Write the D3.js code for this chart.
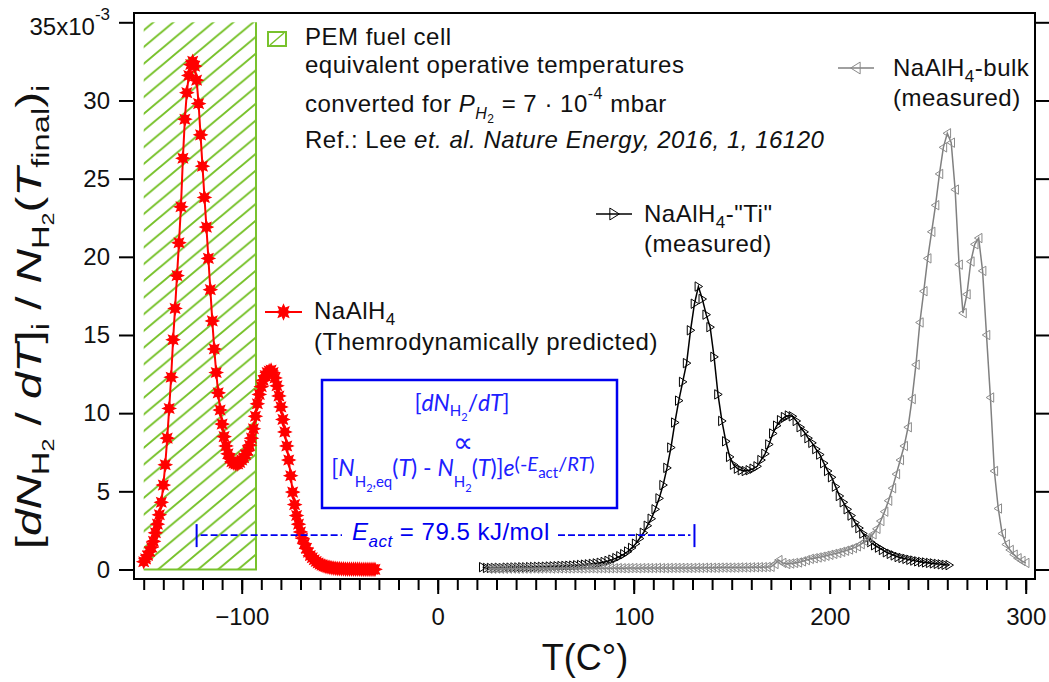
<!DOCTYPE html>
<html>
<head>
<meta charset="utf-8">
<script src="https://cdn.jsdelivr.net/npm/d3@7"></script>
<style>
  body { margin: 0; background: #fff; }
  text { font-family: "Liberation Sans", Arial, sans-serif; white-space: pre; }
</style>
</head>
<body>
<svg id="chart" width="1049" height="682"></svg>
<script>
// temperatures (C) and rates (x10^-3)

// NaAlH4, thermodynamically predicted
const redT = [
  -150, -149, -148, -147, -146, -145, -144, -143, -142, -141,
  -140, -139, -138, -137, -136, -135, -134, -133, -132, -131,
  -130, -129, -128, -127, -126, -125, -124, -123, -122, -121,
  -120, -119, -118, -117, -116, -115, -114, -113, -112, -111,
  -110, -109, -108, -107, -106, -105, -104, -103, -102, -101,
  -100, -99, -98, -97, -96, -95, -94, -93, -92, -91,
  -90, -89, -88, -87, -86, -85, -84, -83, -82, -81,
  -80, -79, -78, -77, -76, -75, -74, -73, -72, -71,
  -70, -69, -68, -67, -66, -65, -64, -63, -62, -61,
  -60, -59, -58, -57, -56, -55, -54, -53, -52, -51,
  -50, -49, -48, -47, -46, -45, -44, -43, -42, -41,
  -40, -39, -38, -37, -36, -35, -34, -33, -32
];
const redY = [
  0.5, 0.68, 0.9, 1.15, 1.42, 1.8, 2.35, 2.9, 3.5, 4.3,
  5.4, 6.7, 8.4, 10.3, 12.3, 14.7, 16.7, 18.8, 20.9, 23.2,
  26.3, 28.8, 30.5, 31.6, 32.3, 32.5, 32.2, 31.3, 29.8, 27.8,
  25.8, 23.8, 21.9, 19.9, 17.9, 15.9, 14.1, 12.6, 11.3, 10.2,
  9.3, 8.5, 7.9, 7.4, 7.1, 6.9, 6.8, 6.75, 6.75, 6.85,
  7.0, 7.15, 7.35, 7.6, 7.95, 8.4, 9.0, 9.8, 10.6, 11.2,
  11.7, 12.1, 12.4, 12.6, 12.7, 12.75, 12.6, 12.25, 11.75, 11.1,
  10.4, 9.6, 8.8, 7.9, 7.0, 6.0, 4.95, 4.15, 3.45, 2.9,
  2.4, 2.0, 1.65, 1.35, 1.1, 0.9, 0.75, 0.62, 0.51, 0.42,
  0.34, 0.28, 0.23, 0.19, 0.16, 0.13, 0.11, 0.09, 0.07, 0.06,
  0.05, 0.04, 0.04, 0.03, 0.03, 0.03, 0.02, 0.02, 0.02, 0.02,
  0.02, 0.01, 0.01, 0.01, 0.01, 0.01, 0.01, 0.01, 0.01
];

// NaAlH4-"Ti" (measured)
const tiT = [
  23, 25, 27, 29, 31, 33, 35, 37, 39, 41,
  43, 45, 47, 49, 51, 53, 55, 57, 59, 61,
  63, 65, 67, 69, 71, 73, 75, 77, 79, 81,
  83, 85, 87, 89, 91, 93, 95, 97, 99, 101,
  103, 105, 107, 109, 111, 113, 115, 117, 119, 121,
  123, 125, 127, 129, 131, 133, 135, 137, 139, 141,
  143, 145, 147, 149, 151, 153, 155, 157, 159, 161,
  163, 165, 167, 169, 171, 173, 175, 177, 179, 181,
  183, 185, 187, 189, 191, 193, 195, 197, 199, 201,
  203, 205, 207, 209, 211, 213, 215, 217, 219, 221,
  223, 225, 227, 229, 231, 233, 235, 237, 239, 241,
  243, 245, 247, 249, 251, 253, 255, 257, 259, 261
];
const tiY = [
  0.15, 0.1, 0.1, 0.1, 0.11, 0.1, 0.12, 0.12, 0.13, 0.13,
  0.14, 0.14, 0.15, 0.16, 0.17, 0.17, 0.18, 0.19, 0.2, 0.21,
  0.22, 0.23, 0.24, 0.25, 0.27, 0.29, 0.31, 0.33, 0.36, 0.39,
  0.43, 0.48, 0.55, 0.63, 0.73, 0.85, 0.98, 1.15, 1.38, 1.65,
  1.98, 2.35, 2.8, 3.25, 3.85, 4.55, 5.4, 6.5, 7.8, 9.4,
  10.8, 12.0, 13.2, 15.3, 17.0, 18.1, 17.3, 16.3, 15.5, 13.6,
  11.2, 9.5, 8.2, 7.2, 6.7, 6.45, 6.35, 6.3, 6.35, 6.45,
  6.6, 7.0, 7.4, 8.0, 8.7, 9.2, 9.55, 9.75, 9.85, 9.8,
  9.5, 9.1, 8.8, 8.4, 8.1, 7.7, 7.35, 6.8, 6.3, 5.9,
  5.3, 4.7, 4.3, 3.85, 3.45, 3.0, 2.65, 2.3, 2.0, 1.75,
  1.55, 1.4, 1.25, 1.1, 1.0, 0.9, 0.8, 0.74, 0.68, 0.62,
  0.57, 0.52, 0.48, 0.45, 0.42, 0.39, 0.36, 0.33, 0.3, 0.28
];

// NaAlH4-bulk (measured)
const bulkT = [
  26, 28, 30, 32, 34, 36, 38, 40, 42, 44,
  46, 48, 50, 52, 54, 56, 58, 60, 62, 64,
  66, 68, 70, 72, 74, 76, 78, 80, 82, 84,
  86, 88, 90, 92, 94, 96, 98, 100, 102, 104,
  106, 108, 110, 112, 114, 116, 118, 120, 122, 124,
  126, 128, 130, 132, 134, 136, 138, 140, 142, 144,
  146, 148, 150, 152, 154, 156, 158, 160, 162, 164,
  166, 168, 170, 172, 174, 176, 178, 180, 182, 184,
  186, 188, 190, 192, 194, 196, 198, 200, 202, 204,
  206, 208, 210, 212, 214, 216, 218, 220, 222, 224,
  226, 228, 230, 232, 234, 236, 238, 240, 242, 244,
  246, 248, 250, 252, 254, 256, 258, 260, 262, 264,
  266, 268, 270, 272, 274, 276, 278, 280, 282, 284,
  286, 288, 290, 292, 294, 296, 298, 300
];
const bulkY = [
  0.05, 0.05, 0.06, 0.05, 0.05, 0.06, 0.06, 0.05, 0.06, 0.06,
  0.06, 0.07, 0.06, 0.06, 0.07, 0.07, 0.06, 0.07, 0.07, 0.07,
  0.07, 0.07, 0.08, 0.07, 0.07, 0.08, 0.08, 0.07, 0.08, 0.08,
  0.08, 0.08, 0.08, 0.09, 0.08, 0.08, 0.09, 0.09, 0.08, 0.09,
  0.09, 0.09, 0.09, 0.1, 0.09, 0.09, 0.1, 0.1, 0.1, 0.1,
  0.1, 0.1, 0.1, 0.11, 0.1, 0.11, 0.11, 0.11, 0.11, 0.12,
  0.12, 0.12, 0.12, 0.12, 0.13, 0.13, 0.13, 0.14, 0.14, 0.15,
  0.15, 0.16, 0.17, 0.35, 0.6, 0.42, 0.35, 0.38, 0.42, 0.45,
  0.52, 0.6, 0.68, 0.72, 0.77, 0.82, 0.88, 0.94, 1.0, 1.06,
  1.13, 1.2, 1.28, 1.37, 1.48, 1.62, 1.8, 2.0, 2.25, 2.6,
  3.1, 3.7, 4.4, 5.2, 6.1, 7.0, 7.9, 9.1, 10.9, 13.1,
  15.8, 17.8, 19.9, 21.6, 23.3, 25.3, 27.0, 27.9, 27.3, 24.3,
  19.5, 16.4, 17.6, 19.7, 20.8, 21.2, 19.1, 15.0, 11.0, 6.3,
  3.9, 2.3, 1.6, 1.25, 0.95, 0.72, 0.55, 0.42
];

// PEM fuel cell window and the E_act bar
const pemRange = [-150, -92.7];
const pemTop = 35;
const eactRange = [-123, 131];
const eactLevel = 2.2;

// ticks
const yTicks = [0, 5, 10, 15, 20, 25, 30, 35];
const xMajor = [-100, 0, 100, 200, 300];
const xMinor = d3.range(-150, 301, 10);

const green = "#78c22c";
const blue = "#0000f0";

const svg = d3.select("#chart");

const x = d3.scaleLinear().domain([-150, 300]).range([143.7, 1025.7]);
const y = d3.scaleLinear().domain([0, 35]).range([569.5, 22.3]);

const frame = { left: 134, right: 1035, top: 13, bottom: 579 };

// little helper for text with sub / superscripts
function rich(parent, px, py, parts, size, fill, anchor) {
  const t = parent.append("text")
    .attr("x", px).attr("y", py)
    .attr("font-size", size)
    .attr("fill", fill || "#111")
    .attr("text-anchor", anchor || "start");
  let cur = 0;
  parts.forEach(p => {
    const txt = typeof p === "string" ? p : p[0];
    const o = typeof p === "string" ? {} : (p[1] || {});
    const b = o.b || 0;
    const ts = t.append("tspan").text(txt);
    if (b !== cur) ts.attr("dy", b - cur);
    if (o.i) ts.attr("font-style", "italic");
    if (o.s) ts.attr("font-size", o.s);
    cur = b;
  });
  return t;
}

// HATCH pattern
const defs = svg.append("defs");
const pw = 20, ph = 16.7;
defs.append("pattern")
  .attr("id", "hatch")
  .attr("patternUnits", "userSpaceOnUse")
  .attr("width", pw).attr("height", ph)
  .append("path")
  .attr("d", `M0,${ph} L${pw},0 M${-pw * 0.2},${ph * 0.2} L${pw * 0.2},${-ph * 0.2} M${pw * 0.8},${ph * 1.2} L${pw * 1.2},${ph * 0.8}`)
  .attr("stroke", green)
  .attr("stroke-width", 2);

// PEM window
svg.append("rect")
  .attr("x", x(pemRange[0]))
  .attr("y", y(pemTop))
  .attr("width", x(pemRange[1]) - x(pemRange[0]))
  .attr("height", y(0) - y(pemTop))
  .attr("fill", "url(#hatch)");
svg.append("path")
  .attr("d", `M${x(pemRange[0])},${y(0)} H${x(pemRange[1])} V${y(pemTop)}`)
  .attr("fill", "none")
  .attr("stroke", green)
  .attr("stroke-width", 2);

// MARKERS
const starType = {
  draw(ctx, size) {
    const r = Math.sqrt(size), ri = r * 0.55;
    for (let k = 0; k < 16; k++) {
      const a = k * Math.PI / 8;
      const rr = k % 2 === 0 ? r : ri;
      if (k === 0) ctx.moveTo(rr * Math.cos(a), rr * Math.sin(a));
      else ctx.lineTo(rr * Math.cos(a), rr * Math.sin(a));
    }
    ctx.closePath();
  }
};
const triRight = {
  draw(ctx, size) {
    const h = Math.sqrt(size);
    ctx.moveTo(-0.7 * h, -h);
    ctx.lineTo(0.9 * h, 0);
    ctx.lineTo(-0.7 * h, h);
    ctx.closePath();
  }
};
const triLeft = {
  draw(ctx, size) {
    const h = Math.sqrt(size);
    ctx.moveTo(0.7 * h, -h);
    ctx.lineTo(-0.9 * h, 0);
    ctx.lineTo(0.7 * h, h);
    ctx.closePath();
  }
};

const series = [
  { name: "red", T: redT, V: redY, color: "#ff0000", width: 2, type: starType, size: 40, fill: "#ff0000", mstroke: "#ff0000", msw: 1.2 },
  { name: "ti", T: tiT, V: tiY, color: "#000", width: 1.5, type: triRight, size: 22, fill: "none", mstroke: "#000", msw: 1 },
  { name: "bulk", T: bulkT, V: bulkY, color: "#808080", width: 1.5, type: triLeft, size: 22, fill: "none", mstroke: "#8a8a8a", msw: 1 }
];

const line = d3.line().x(d => x(d[0])).y(d => y(d[1]));

series.forEach(s => {
  const pts = s.T.map((t, i) => [t, s.V[i]]);
  const g = svg.append("g").attr("class", s.name);
  g.append("path")
    .attr("d", line(pts))
    .attr("fill", "none")
    .attr("stroke", s.color)
    .attr("stroke-width", s.width);
  g.selectAll("path.m")
    .data(pts)
    .join("path")
    .attr("class", "m")
    .attr("transform", d => `translate(${x(d[0])},${y(d[1])})`)
    .attr("d", d3.symbol().type(s.type).size(s.size))
    .attr("fill", s.fill)
    .attr("stroke", s.mstroke)
    .attr("stroke-width", s.msw);
});

// FRAME + AXES
svg.append("rect")
  .attr("x", frame.left).attr("y", frame.top)
  .attr("width", frame.right - frame.left)
  .attr("height", frame.bottom - frame.top)
  .attr("fill", "none")
  .attr("stroke", "#000")
  .attr("stroke-width", 2);

const axLeft = svg.append("g")
  .attr("transform", `translate(${frame.left},0)`)
  .call(d3.axisLeft(y).tickValues(yTicks).tickSize(15).tickPadding(9)
    .tickFormat(d => d === 35 ? "" : d));
const axRight = svg.append("g")
  .attr("transform", `translate(${frame.right},0)`)
  .call(d3.axisRight(y).tickValues(yTicks).tickSize(14).tickFormat(""));
const axMinor = svg.append("g")
  .attr("transform", `translate(0,${frame.bottom})`)
  .call(d3.axisBottom(x).tickValues(xMinor).tickSize(11).tickFormat(""));
const axMajor = svg.append("g")
  .attr("transform", `translate(0,${frame.bottom})`)
  .call(d3.axisBottom(x).tickValues(xMajor).tickSize(15));

[axLeft, axRight, axMinor, axMajor].forEach(a => {
  a.select(".domain").remove();
  a.selectAll(".tick line").attr("stroke", "#000").attr("stroke-width", 2);
  a.selectAll("text")
    .attr("font-size", 24)
    .attr("font-family", '"Liberation Sans", Arial, sans-serif')
    .attr("fill", "#111");
});
axMajor.selectAll("text").attr("y", 46).attr("dy", 0);

rich(svg, 110, 35, ["35x10", ["-3", { s: 17, b: -15 }]], 24, "#111", "end");

// AXIS TITLES
rich(svg, 585, 670, ["T(C°)"], 36, "#111", "middle");

// the y title is drawn wide along its baseline, as in the original figure
rich(svg, 0, 0, [
  "[", ["d", { i: 1 }], ["N", { i: 1 }], ["H", { s: 24, b: 8 }], ["2", { s: 17, b: 13 }],
  " / ", ["d", { i: 1 }], ["T", { i: 1 }], "]", ["i", { s: 24, b: 8 }],
  " / ", ["N", { i: 1 }], ["H", { s: 24, b: 8 }], ["2", { s: 17, b: 13 }],
  "(", ["T", { i: 1 }], ["final", { s: 24, b: 8 }], ")", ["i", { s: 24, b: 8 }]
], 35, "#111", "middle")
  .attr("transform", "translate(41,317) rotate(-90) scale(1.36,1)");

// PEM LEGEND + NOTE
svg.append("rect")
  .attr("x", 268).attr("y", 32).attr("width", 18).attr("height", 14)
  .attr("fill", "none").attr("stroke", green).attr("stroke-width", 2);
svg.append("line")
  .attr("x1", 270).attr("y1", 45).attr("x2", 284).attr("y2", 33)
  .attr("stroke", green).attr("stroke-width", 1.5);

const note = svg.append("g").attr("letter-spacing", 0.5);
rich(note, 305, 45, ["PEM fuel cell"], 24);
rich(note, 305, 73, ["equivalent operative temperatures"], 24);
rich(note, 305, 112, [
  "converted for ", ["P", { i: 1 }], ["H", { i: 1, s: 16, b: 7 }], ["2", { s: 12, b: 11 }],
  " = 7 · 10", ["-4", { s: 16, b: -13 }], " mbar"
], 24);
rich(note, 305, 148, ["Ref.: Lee ", ["et. al. Nature Energy, 2016, 1, 16120", { i: 1 }]], 24);

// SERIES LEGENDS
function legendEntry(s, x1, x2, ly, tx, lines, scale) {
  const g = svg.append("g");
  g.append("line")
    .attr("x1", x1).attr("x2", x2).attr("y1", ly).attr("y2", ly)
    .attr("stroke", s.color).attr("stroke-width", s.width);
  g.append("path")
    .attr("transform", `translate(${(x1 + x2) / 2},${ly})`)
    .attr("d", d3.symbol().type(s.type).size(s.size * scale))
    .attr("fill", s.fill).attr("stroke", s.mstroke).attr("stroke-width", s.msw);
  const tg = g.append("g").attr("letter-spacing", 0.5);
  lines.forEach(l => rich(tg, tx, l[0], l[1], 24));
}

legendEntry(series[0], 265, 302, 312, 314, [
  [319, ["NaAlH", ["4", { s: 17, b: 6 }]]],
  [350, ["(Themrodynamically predicted)"]]
], 1.3);
legendEntry(series[1], 596, 632, 214, 644, [
  [222, ["NaAlH", ["4", { s: 17, b: 6 }], "-\"Ti\""]],
  [252, ["(measured)"]]
], 1.6);
legendEntry(series[2], 838, 874, 68, 893, [
  [76, ["NaAlH", ["4", { s: 17, b: 6 }], "-bulk"]],
  [106, ["(measured)"]]
], 1.6);

// BLUE BOX
svg.append("rect")
  .attr("x", 322).attr("y", 380).attr("width", 295).attr("height", 128)
  .attr("fill", "none").attr("stroke", blue).attr("stroke-width", 2.5);

const box = svg.append("g");
rich(box, 462, 411, [
  "[", ["d", { i: 1 }], ["N", { i: 1 }], ["H", { s: 15, b: 5 }], ["2", { s: 11, b: 10 }],
  "/", ["d", { i: 1 }], ["T", { i: 1 }], "]"
], 23, "#2020ff", "middle").style("font-family", "Lato, sans-serif");
rich(box, 463, 452, ["∝"], 28, "#2020ff", "middle").style("font-family", "'DejaVu Sans', sans-serif");
rich(box, 463, 476, [
  "[", ["N", { i: 1 }], ["H", { s: 15, b: 11 }], ["2", { s: 11, b: 16 }], [",eq", { s: 15, b: 11 }],
  "(", ["T", { i: 1 }], ") - ", ["N", { i: 1 }], ["H", { s: 15, b: 11 }], ["2", { s: 11, b: 16 }],
  "(", ["T", { i: 1 }], ")]", ["e", { i: 1 }],
  ["(-", { s: 20, b: -5 }], ["E", { i: 1, s: 20, b: -5 }], ["act", { s: 15, b: 2 }],
  ["/", { s: 20, b: -5 }], ["RT", { i: 1, s: 20, b: -5 }], [")", { s: 20, b: -5 }]
], 23, "#2020ff", "middle").style("font-family", "Lato, sans-serif");

// E_act BAR
const eact = svg.append("g");
const ey = y(eactLevel);
[eactRange[0], eactRange[1]].forEach(t => {
  eact.append("line")
    .attr("x1", x(t)).attr("x2", x(t)).attr("y1", ey - 11).attr("y2", ey + 12)
    .attr("stroke", blue).attr("stroke-width", 2);
});
eact.append("line")
  .attr("x1", x(eactRange[0]) + 4).attr("x2", 342)
  .attr("y1", ey).attr("y2", ey)
  .attr("stroke", blue).attr("stroke-width", 1.6).attr("stroke-dasharray", "7,3");
eact.append("line")
  .attr("x1", 558).attr("x2", x(eactRange[1]) - 4)
  .attr("y1", ey).attr("y2", ey)
  .attr("stroke", blue).attr("stroke-width", 1.6).attr("stroke-dasharray", "7,3");
rich(eact.append("g").attr("letter-spacing", 0.5), 352, 540, [
  ["E", { i: 1 }], ["act", { i: 1, s: 17, b: 7 }], " = 79.5 kJ/mol"
], 24, blue);
</script>
</body>
</html>
